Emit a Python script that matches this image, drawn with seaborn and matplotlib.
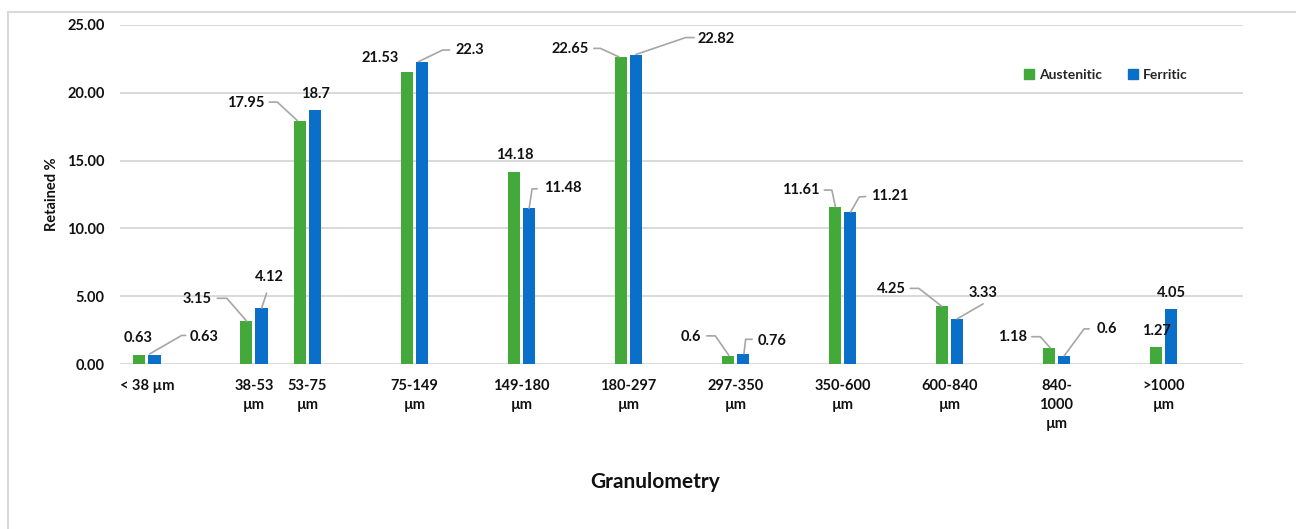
import numpy as np
import pandas as pd
import matplotlib
matplotlib.use("Agg")
import matplotlib.pyplot as plt
from matplotlib.lines import Line2D
import seaborn as sns

# ---- data -------------------------------------------------------------
size_classes = ["< 38 \u00b5m", "38-53\n\u00b5m", "53-75\n\u00b5m", "75-149\n\u00b5m",
                "149-180\n\u00b5m", "180-297\n\u00b5m", "297-350\n\u00b5m",
                "350-600\n\u00b5m", "600-840\n\u00b5m", "840-\n1000\n\u00b5m",
                ">1000\n\u00b5m"]
austenitic = [0.63, 3.15, 17.95, 21.53, 14.18, 22.65, 0.60, 11.61, 4.25, 1.18, 1.27]
ferritic = [0.63, 4.12, 18.70, 22.30, 11.48, 22.82, 0.76, 11.21, 3.33, 0.60, 4.05]
series_names = ["Austenitic", "Ferritic"]
y_ticks = [0, 5, 10, 15, 20, 25]

# ---- layout -----------------------------------------------------------
# axis slot of each size class (the 53-75 class sits half a slot after 38-53)
slot = [0, 1, 1.5, 2.5, 3.5, 4.5, 5.5, 6.5, 7.5, 8.5, 9.5]
colors = {"Austenitic": "#42A93A", "Ferritic": "#0A6FC9"}
ink = "#111111"

# label placement in pixels relative to each bar top: (dx, dy) for the text,
# and an optional leader polyline (list of (dx, dy) vertices)
label_style = {
    "Austenitic": [
        ((-1, 17), None),
        ((-49, 22), [(-29, 23), (-19.5, 23), (0.5, 0)]),
        ((-54, 18), [(-30.5, 18.5), (-22.5, 18.5), (-2.5, 0)]),
        ((-27, 14), None),
        ((0.5, 17), None),
        ((-51, 8), [(-27, 8.5), (-20.5, 8.5), (-2, 0)]),
        ((-36.5, 19), [(-21, 20), (-12.5, 20), (1, 0.5)]),
        ((-34, 16.5), [(-10.5, 16.5), (-3, 16.5), (0.5, 0)]),
        ((-50.5, 17), [(-31.5, 18), (-23, 18), (0, 0)]),
        ((-36.5, 10.5), [(-17, 11.3), (-8.5, 11.3), (1.5, 0)]),
        ((0.5, 16), None),
    ],
    "Ferritic": [
        ((50, 18), [(-5, 1.5), (27, 20), (31, 20)]),
        ((7.5, 31), [(0, 0), (5, 15)]),
        ((0, 16.5), None),
        ((47.5, 12), [(-3.5, 0), (20.5, 11.6), (27.5, 11.6)]),
        ((34, 20), [(0, 0), (3, 19.5), (8, 19.5)]),
        ((79.5, 16), [(-0.5, 0), (49.5, 17), (58, 17)]),
        ((28.5, 13), [(0.8, 0), (2.5, 14.4), (9, 14.4)]),
        ((40, 16), [(0.5, 0), (9, 15), (15.5, 15.5)]),
        ((25.5, 26), [(0, 0), (26, 15)]),
        ((42.5, 27), [(0, 0), (20, 27), (25, 27)]),
        ((0, 16), None),
    ],
}

df = pd.DataFrame({
    "slot": slot * 2,
    "value": austenitic + ferritic,
    "series": [series_names[0]] * len(slot) + [series_names[1]] * len(slot),
})

# ---- figure -----------------------------------------------------------
sns.set_theme(style="white")
plt.rcParams["font.family"] = ["Lato", "DejaVu Sans"]
plt.rcParams["font.weight"] = "bold"

fig = plt.figure(figsize=(12.96, 5.29), dpi=100)
ax = fig.add_axes([120 / 1296, 165 / 529, 1123 / 1296, 339 / 529])

sns.barplot(data=df, x="slot", y="value", hue="series", hue_order=series_names,
            palette=colors, native_scale=True, width=0.572, gap=0.2,
            linewidth=0, saturation=1, errorbar=None, ax=ax)

ax.set_xlim(-0.252, 10.243)
ax.set_ylim(0, 25)
ax.set_yticks(y_ticks)
ax.set_yticklabels([f"{t:.2f}" for t in y_ticks], fontsize=10.5,
                   fontweight="bold", color=ink)
ax.set_xticks(slot)
ax.set_xticklabels(size_classes, fontsize=10.5, fontweight="bold",
                   color=ink, linespacing=1.45, va="top")
ax.tick_params(axis="both", length=0)
ax.tick_params(axis="x", pad=11)
ax.tick_params(axis="y", pad=11)
for sp in ax.spines.values():
    sp.set_visible(False)
ax.yaxis.grid(True, color="#d9d9d9", linewidth=1.4)
ax.set_axisbelow(True)
ax.set_xlabel("")
ax.set_ylabel("Retained %", fontsize=10.5, fontweight="bold",
              color=ink, labelpad=6)

# legend
handles = [plt.Rectangle((0, 0), 1, 1, color=colors[n]) for n in series_names]
ax.get_legend().remove()
fig.legend(handles, series_names, loc="center", ncol=2, frameon=False,
           bbox_to_anchor=(1106 / 1296, 1 - 75 / 529),
           prop={"weight": "bold", "size": 10}, handlelength=0.7,
           handleheight=0.7, handletextpad=0.35, columnspacing=1.9)

# data labels with leader lines, anchored on the drawn bars
bars = sorted([p for p in ax.patches if p.get_width() > 0],
              key=lambda p: p.get_x())
to_disp = ax.transData
to_data = ax.transData.inverted()
values = {"Austenitic": austenitic, "Ferritic": ferritic}
for i in range(len(slot)):
    pair = bars[2 * i: 2 * i + 2]
    for bar, name in zip(pair, series_names):
        val = values[name][i]
        top = (bar.get_x() + bar.get_width() / 2, bar.get_height())
        (tdx, tdy), leader = label_style[name][i]
        ax.annotate(f"{val:g}", xy=top, xytext=(tdx, tdy),
                    textcoords="offset pixels", ha="center", va="center",
                    fontsize=10.5, fontweight="bold", color=ink)
        if leader:
            base = to_disp.transform(top)
            pts = to_data.transform(np.array(leader) + base)
            ax.add_line(Line2D(pts[:, 0], pts[:, 1], color="#a6a6a6",
                               linewidth=1.2, clip_on=False))

fig.text(655 / 1296, 1 - 482 / 529, "Granulometry", ha="center", va="center",
         fontsize=15, fontweight="bold", color=ink)

# chart frame
frame = dict(color="#d9d9d9", linewidth=1.5, transform=fig.transFigure)
fig.add_artist(Line2D([8 / 1296, 1], [1 - 12 / 529, 1 - 12 / 529], **frame))
fig.add_artist(Line2D([8 / 1296, 8 / 1296], [0, 1 - 12 / 529], **frame))

fig.savefig("out.png", dpi=100)
